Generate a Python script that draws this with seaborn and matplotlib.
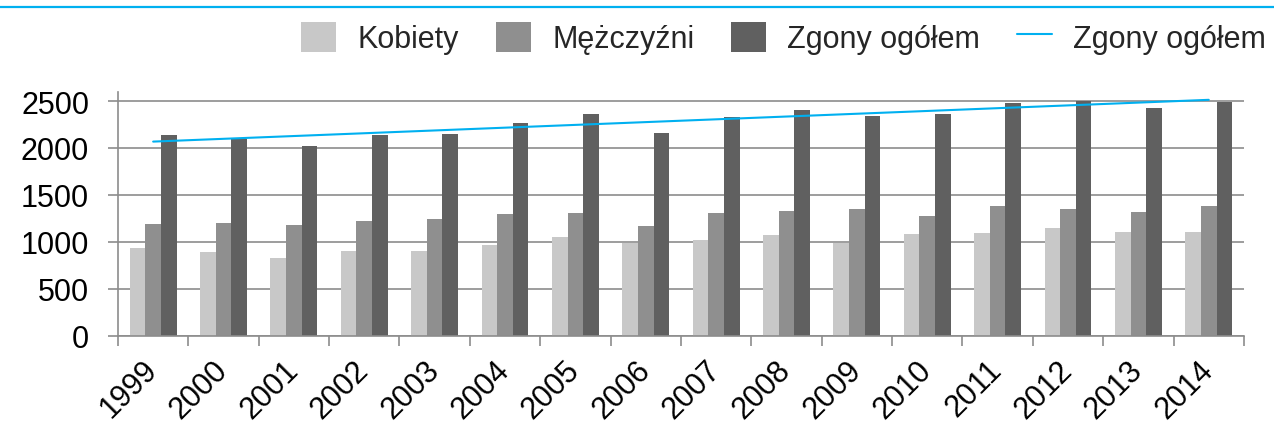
import numpy as np
import pandas as pd
import seaborn as sns
import matplotlib
matplotlib.use("Agg")
import matplotlib.pyplot as plt
from matplotlib.patches import Patch
from matplotlib.lines import Line2D
from matplotlib.ticker import FixedLocator

# Deaths by sex, 1999-2014
years = ["1999", "2000", "2001", "2002", "2003", "2004", "2005", "2006",
         "2007", "2008", "2009", "2010", "2011", "2012", "2013", "2014"]
kobiety = [934, 891, 827, 902, 902, 966, 1048, 984,
           1016, 1072, 991, 1083, 1090, 1151, 1101, 1101]
mezczyzni = [1190, 1197, 1179, 1225, 1239, 1296, 1303, 1168,
             1303, 1332, 1349, 1271, 1381, 1346, 1314, 1378]
zgony = [2134, 2095, 2017, 2134, 2148, 2266, 2358, 2159,
         2330, 2408, 2344, 2358, 2479, 2500, 2422, 2489]

series_names = ["Kobiety", "Mężczyźni", "Zgony ogółem"]
series_colors = ["#c8c8c8", "#8f8f8f", "#606060"]
trend_color = "#00b0f0"
grid_color = "#8c8c8c"

df = pd.DataFrame({
    "rok": years * 3,
    "liczba": kobiety + mezczyzni + zgony,
    "seria": [series_names[0]] * len(years)
             + [series_names[1]] * len(years)
             + [series_names[2]] * len(years),
})

sns.set_style("white")
plt.rcParams["font.family"] = ["Liberation Sans", "DejaVu Sans"]

fig = plt.figure(figsize=(12.74, 4.27), dpi=100)
ax = fig.add_axes([0.0926, 0.2115, 0.8838, 0.5716])

sns.barplot(data=df, x="rok", y="liczba", hue="seria", order=years,
            hue_order=series_names, palette=series_colors, width=0.667,
            linewidth=0, saturation=1, legend=False, ax=ax)

# linear trend of total deaths
sns.regplot(x=np.arange(len(years)), y=np.array(zgony), scatter=False,
            ci=None, truncate=True, ax=ax,
            line_kws=dict(color=trend_color, lw=1.5, zorder=5))

ax.set_xlim(-0.5, len(years) - 0.5)
ax.set_ylim(0, 2600)
ax.set_yticks([0, 500, 1000, 1500, 2000, 2500])
ax.set_xlabel("")
ax.set_ylabel("")

ax.set_axisbelow(True)
ax.yaxis.grid(True, color=grid_color, lw=1.2)
ax.xaxis.grid(False)

for side in ["top", "right"]:
    ax.spines[side].set_visible(False)
for side in ["left", "bottom"]:
    ax.spines[side].set_color(grid_color)
    ax.spines[side].set_linewidth(1.2)

ax.tick_params(axis="y", which="major", direction="out", length=7.2,
               width=1.2, color=grid_color, pad=13.5, labelsize=22,
               labelcolor="black", left=True)
ax.xaxis.set_minor_locator(FixedLocator(np.arange(-0.5, len(years), 1.0)))
ax.tick_params(axis="x", which="minor", direction="out", length=7.2,
               width=1.2, color=grid_color, bottom=True)
ax.tick_params(axis="x", which="major", length=0, pad=21, labelsize=22,
               labelcolor="black")
for lbl in ax.get_xticklabels():
    lbl.set_rotation(45)
    lbl.set_ha("right")
    lbl.set_va("center")
    lbl.set_rotation_mode("anchor")

# legend across the top
handles = [Patch(facecolor=c, edgecolor="none") for c in series_colors]
handles.append(Line2D([0], [0], color=trend_color, lw=1.5))
labels = series_names + ["Zgony ogółem"]
fig.legend(handles, labels, ncol=4, loc="center right",
           bbox_to_anchor=(0.994, 0.909), frameon=False, fontsize=22,
           handlelength=1.15, handleheight=1.15, handletextpad=0.7,
           columnspacing=1.2, borderaxespad=0, borderpad=0)

# accent rule along the top edge
fig.add_artist(Line2D([0, 1], [0.982, 0.982], transform=fig.transFigure,
                      color=trend_color, lw=1.6))

fig.savefig("out.png", dpi=100)
